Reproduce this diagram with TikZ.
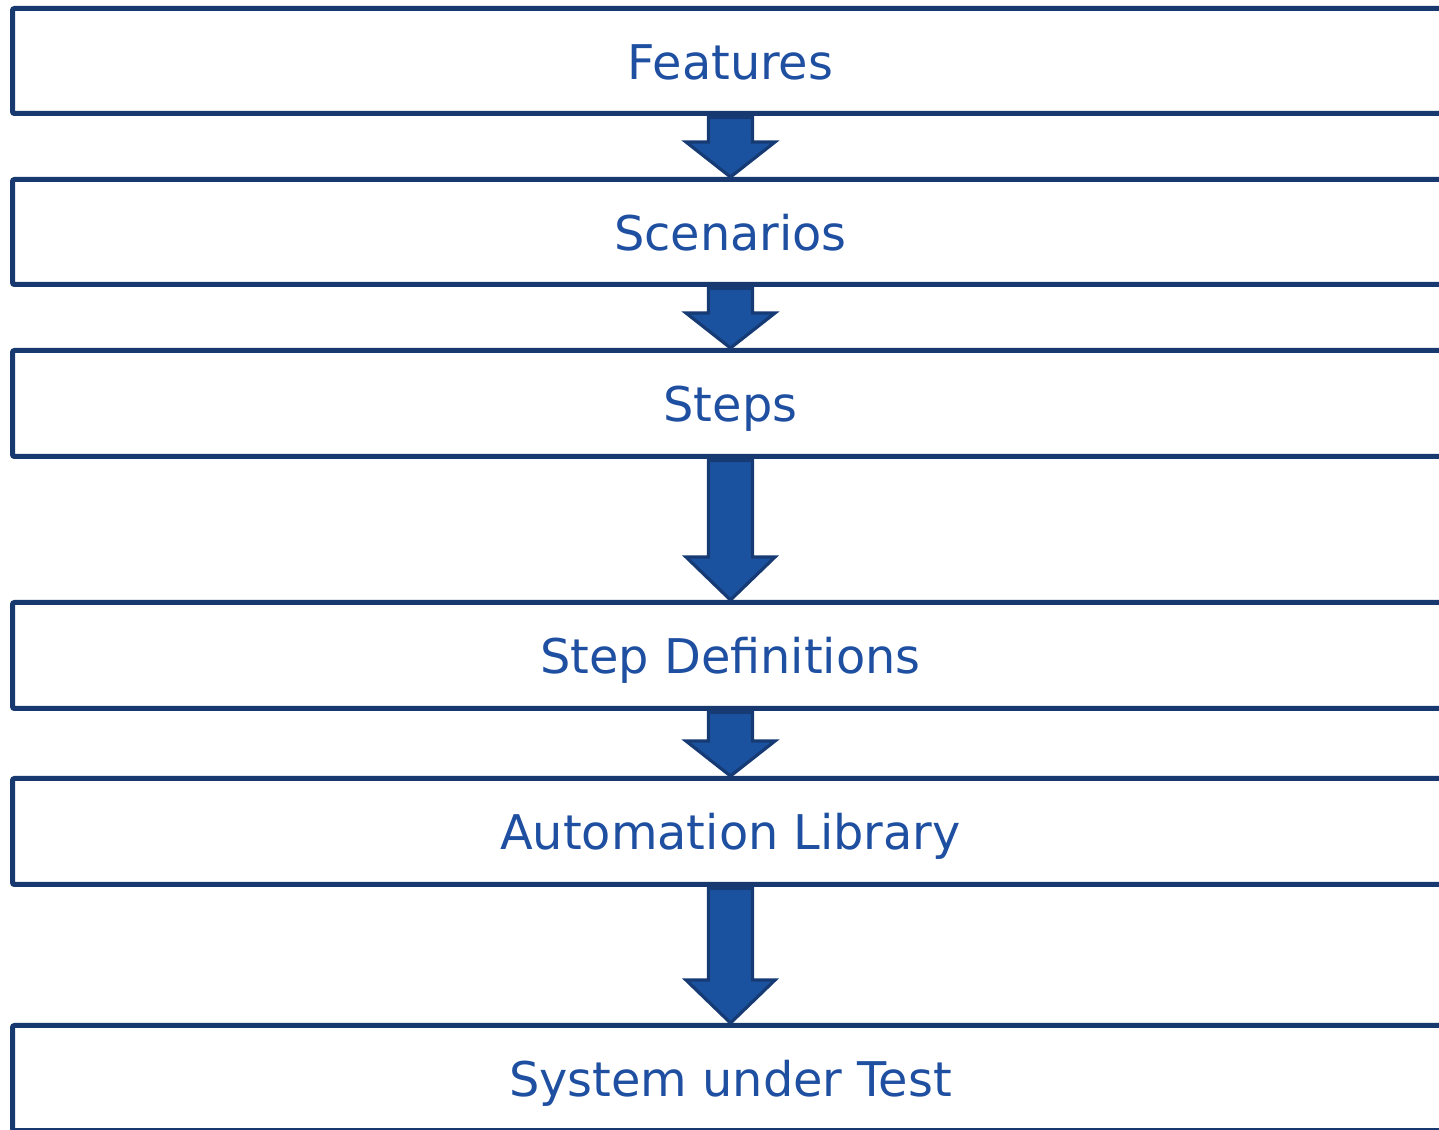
\documentclass[tikz,border=0pt]{standalone}
\usepackage{fontspec}
\setmainfont{DejaVu Sans}
\usetikzlibrary{calc}
\definecolor{boxline}{HTML}{17396F}
\definecolor{arrfill}{HTML}{1B52A0}
\definecolor{arrline}{HTML}{163B74}
\definecolor{txt}{HTML}{1F4FA0}
\tikzset{
  stagebox/.style={draw=boxline, line width=5pt, rounded corners=2pt, fill=white,
    minimum width=1436pt, minimum height=105pt, inner sep=0pt,
    text height=37pt, text depth=0pt,
    text=txt, font=\fontsize{47.8}{56}\selectfont},
  flowarrow/.style={fill=arrfill, draw=arrline, line width=3.2pt, line join=miter}
}
\newcommand\stagearrow[3]{%
  \draw[flowarrow] ($(#1.south)+(-22,-1.5)$) -- ($(#2.north)+(-22,#3)$) -- ($(#2.north)+(-44.5,#3)$)
   -- (#2.north) -- ($(#2.north)+(44.5,#3)$) -- ($(#2.north)+(22,#3)$) -- ($(#1.south)+(22,-1.5)$) -- cycle;}
\begin{document}
\begin{tikzpicture}[x=1pt,y=1pt]
\useasboundingbox (0,0) rectangle (1439,1129);
\clip (0,0) rectangle (1439,1129);
\fill[white] (0,0) rectangle (1439,1129);
\node[stagebox] (f) at (730.5,1068) {Features};
\node[stagebox] (s) at (730.5,897) {Scenarios};
\node[stagebox, minimum height=106pt] (st) at (730.5,725.5) {Steps};
\node[stagebox, minimum height=106pt] (sd) at (730.5,473.5) {Step Definitions};
\node[stagebox, minimum height=106pt] (al) at (730.5,297.5) {Automation Library};
\node[stagebox] (sut) at (730.5,51) {System under Test};
\stagearrow{f}{s}{35}
\stagearrow{s}{st}{35}
\stagearrow{st}{sd}{43}
\stagearrow{sd}{al}{35}
\stagearrow{al}{sut}{43}
\end{tikzpicture}
\end{document}
